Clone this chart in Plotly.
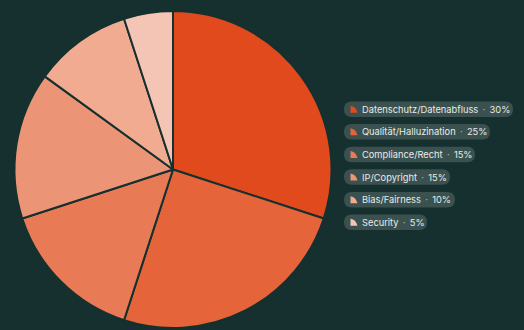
import plotly.graph_objects as go

# ---- data ----
labels = ["Datenschutz/Datenabfluss", "Qualität/Halluzination", "Compliance/Recht",
          "IP/Copyright", "Bias/Fairness", "Security"]
values = [30, 25, 15, 15, 10, 5]
colors = ["#E04A1C", "#E5643A", "#E97A56", "#EC9576", "#F0AB90", "#F4C5B5"]

# ---- layout constants ----
W, H = 524, 330
BG = "#15302F"
PILL_BG = "#3A5150"
TEXT_COLOR = "#E6ECEA"
pill_widths = [169, 146, 131, 106, 111, 83]
pill_left = 344
pill_top0 = 101.5
pill_h = 15.5
pill_step = 22.6


def px(x):
    return x / W


def py(y):
    return 1 - y / H


def pt(x, y):
    return f"{px(x):.5f},{py(y):.5f}"


fig = go.Figure()
cx, cy, r = 173, 169.5, 158.5
fig.add_trace(go.Pie(
    labels=labels, values=values, sort=False, direction="clockwise", rotation=0,
    marker=dict(colors=colors, line=dict(color=BG, width=2)),
    textinfo="none", hoverinfo="label+percent", showlegend=False,
    domain=dict(x=[px(cx - r), px(cx + r)], y=[py(cy + r), py(cy - r)]),
))

shapes = []
annotations = []
SEP = " \u2009<span style='color:#AEBBB8'>·</span>\u2009 "
for i, (lab, val, col) in enumerate(zip(labels, values, colors)):
    top = pill_top0 + i * pill_step
    bot = top + pill_h
    left = pill_left
    right = left + pill_widths[i]
    rr = pill_h / 2
    path = (f"M {pt(left + rr, top)} L {pt(right - rr, top)} "
            f"Q {pt(right, top)} {pt(right, top + rr)} "
            f"Q {pt(right, bot)} {pt(right - rr, bot)} "
            f"L {pt(left + rr, bot)} "
            f"Q {pt(left, bot)} {pt(left, top + rr)} "
            f"Q {pt(left, top)} {pt(left + rr, top)} Z")
    shapes.append(dict(type="path", path=path, xref="paper", yref="paper",
                       fillcolor=PILL_BG, line=dict(width=0), layer="above"))
    # quarter-sector icon
    mid = (top + bot) / 2
    ix0, iy0 = 350.5, mid + 3.5
    s = 7
    ipath = (f"M {pt(ix0, iy0)} L {pt(ix0, iy0 - s)} "
             f"Q {pt(ix0 + s * 0.75, iy0 - s * 0.9)} {pt(ix0 + s, iy0)} Z")
    shapes.append(dict(type="path", path=ipath, xref="paper", yref="paper",
                       fillcolor=col, line=dict(width=0), layer="above"))
    annotations.append(dict(
        x=px(360), y=py(mid), xref="paper", yref="paper", xanchor="left", yanchor="middle",
        text=f"{lab}{SEP}{val}%", showarrow=False,
        font=dict(family="Inter", size=9.3, color=TEXT_COLOR),
    ))

fig.update_layout(
    width=W, height=H, margin=dict(l=0, r=0, t=0, b=0),
    paper_bgcolor=BG, plot_bgcolor=BG,
    shapes=shapes, annotations=annotations, showlegend=False,
)

fig.write_html("out.html")
